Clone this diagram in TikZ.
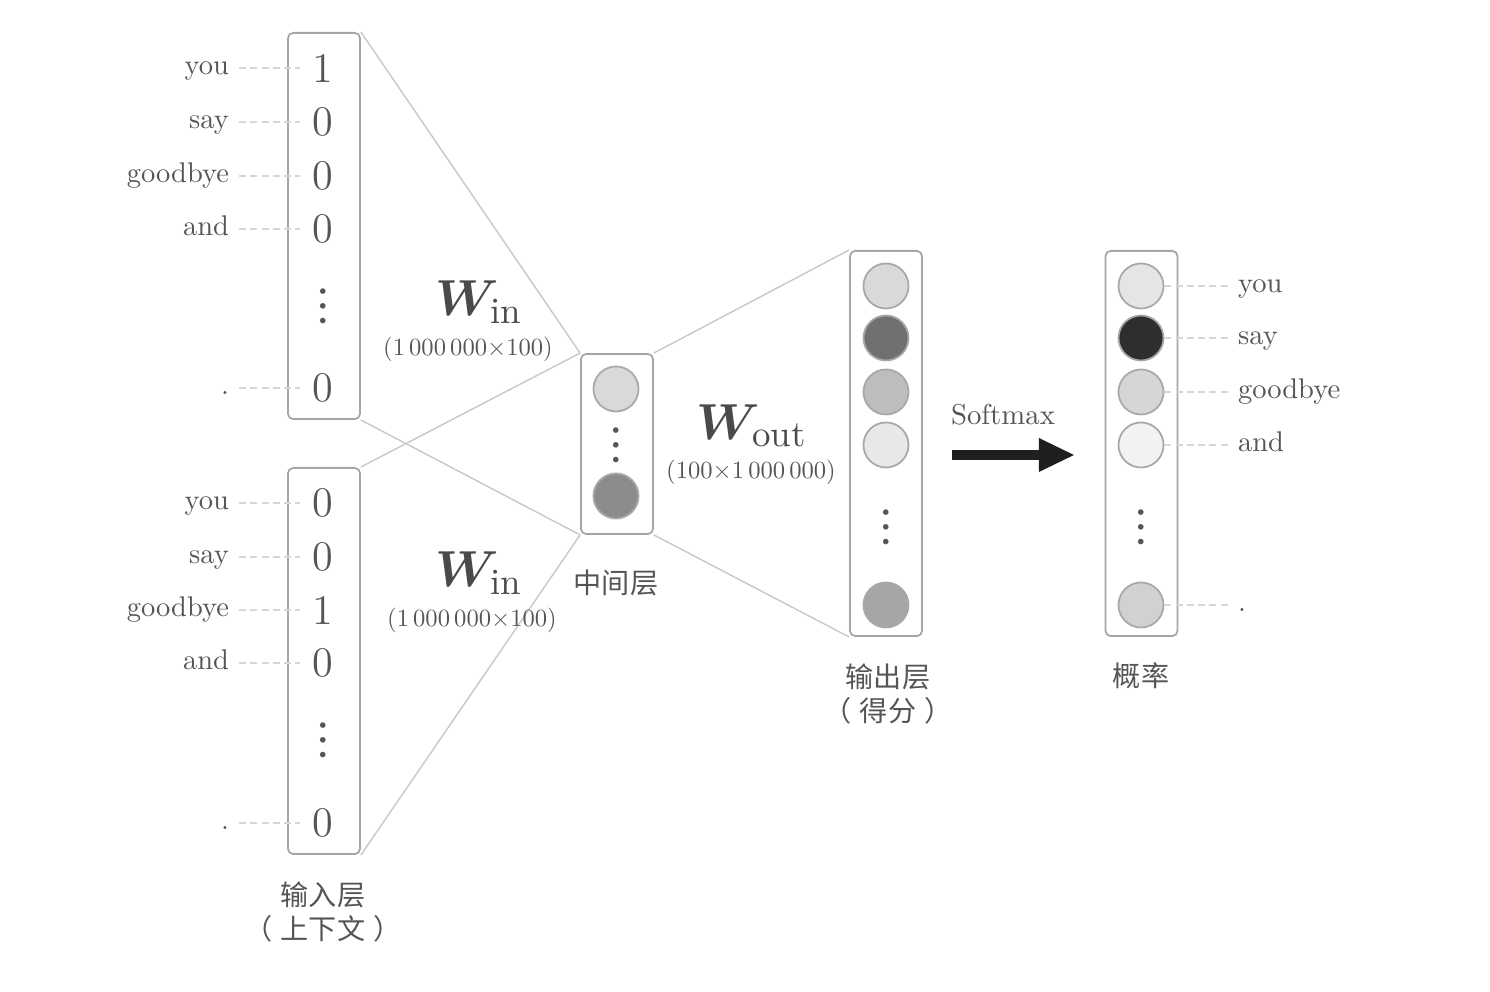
\documentclass[tikz,border=0pt]{standalone}
\usepackage{fontspec}
\usepackage{bm}
\newfontfamily\cjk{Noto Sans CJK SC}
\newfontfamily\symfont{Latin Modern Math}
\usetikzlibrary{arrows.meta}
\definecolor{txt}{HTML}{555555}
\definecolor{boxc}{HTML}{A6A6A6}
\definecolor{linkc}{HTML}{C8C8C8}
\definecolor{guidec}{HTML}{D6D6D6}
\definecolor{circc}{HTML}{A8A8A8}
\definecolor{wc}{HTML}{4A4A4A}
\begin{document}
\begin{tikzpicture}[x=0.01cm,y=-0.01cm,
  box/.style={draw=boxc,line width=0.5pt,rounded corners=1.5pt,minimum width=0.72cm},
  link/.style={draw=linkc,line width=0.4pt},
  guide/.style={draw=guidec,line width=0.35pt,dash pattern=on 2pt off 1.2pt},
  unit/.style={circle,draw=circc,line width=0.5pt,minimum size=0.45cm,inner sep=0pt},
  word/.style={text=txt,font=\fontsize{10}{12}\selectfont,scale=0.81,transform shape},
  digit/.style={text=txt,font=\fontsize{12}{14}\selectfont},
  vdot/.style={text=txt,font=\symfont\fontsize{15}{18}\selectfont},
  dim/.style={text=txt,font=\fontsize{10}{12}\selectfont,scale=0.7,transform shape},
  wt/.style={text=wc,font=\fontsize{15}{18}\selectfont},
  layer/.style={text=txt,align=center,font=\cjk\fontsize{8}{9.6}\selectfont}]
\useasboundingbox (0,0) rectangle (1490,992);
\node[box,minimum height=3.86cm] (ctxA) at (324,226) {};
\node[box,minimum height=3.86cm] (ctxB) at (324,661) {};
\node[box,minimum height=1.8cm] (hid) at (617,444) {};
\node[box,minimum height=3.85cm] (score) at (886,443.5) {};
\node[box,minimum height=3.85cm] (prob) at (1141.5,443.5) {};
\draw[link] (ctxA.north east) -- (hid.north west);
\draw[link] (ctxA.south east) -- (hid.south west);
\draw[link] (ctxB.north east) -- (hid.north west);
\draw[link] (ctxB.south east) -- (hid.south west);
\draw[link] (hid.north east) -- (score.north west);
\draw[link] (hid.south east) -- (score.south west);
\foreach \w/\v/\y [count=\i] in {you/1/68, say/0/122, goodbye/0/176, and/0/229, ./0/388}
{
    \node[word,anchor=mid east] (wa\i) at (239,\y) {\w};
    \node[digit] (va\i) at (323,\y) {\v};
    \draw[guide] (wa\i.mid east) -- (va\i.west);
}
\node[vdot] (dotsA) at (323,306) {⋮};
\foreach \w/\v/\y [count=\i] in {you/0/503, say/0/557, goodbye/1/610, and/0/663, ./0/823}
{
    \node[word,anchor=mid east] (wb\i) at (239,\y) {\w};
    \node[digit] (vb\i) at (323,\y) {\v};
    \draw[guide] (wb\i.mid east) -- (vb\i.west);
}
\node[vdot] (dotsB) at (323,740) {⋮};
\node[unit,fill=black!15] (h1) at (616,389) {};
\node[vdot] (dotsH) at (616,445) {⋮};
\node[unit,fill=black!45] (h2) at (616,496) {};
\foreach \g/\y [count=\i] in {15/286, 56/338, 26/392, 9/445, 35/605}
{
    \node[unit,fill=black!\g] (s\i) at (886,\y) {};
}
\node[vdot] (dotsS) at (886,527) {⋮};
\foreach \g/\w/\y [count=\i] in {10/you/286, 82/say/338, 16/goodbye/392, 5/and/445, 18/./605}
{
    \node[unit,fill=black!\g] (p\i) at (1141,\y) {};
    \node[word,anchor=mid west] (wp\i) at (1228,\y) {\w};
    \draw[guide] (p\i.east) -- (wp\i.mid west);
}
\node[vdot] (dotsP) at (1141,527) {⋮};
\node[wt] (winA) at (479,302) {$\bm{W}_{\mathrm{in}}$};
\node[dim] (dimA) at (468,349) {(1\,000\,000${\times}$100)};
\node[wt] (winB) at (479,573) {$\bm{W}_{\mathrm{in}}$};
\node[dim] (dimB) at (472,620) {(1\,000\,000${\times}$100)};
\node[wt] (wout) at (752,426) {$\bm{W}_{\mathrm{out}}$};
\node[dim] (dimO) at (751,472) {(100${\times}$1\,000\,000)};
\node[word,scale=1.01] (smx) at (1003,415) {Softmax};
\coordinate (sm0) at (952,455);
\coordinate (sm1) at (1075,455);
\draw[-{Triangle[length=0.36cm,width=0.31cm]},line width=2.8pt,black!88] (sm0) -- (sm1);
\node[layer] (lctx) at (323,912) {输入层\\（\hspace{0.3em}上下文\hspace{0.3em}）};
\node[layer] (lhid) at (616,583) {中间层};
\node[layer] (lscore) at (888,694) {输出层\\（\hspace{0.3em}得分\hspace{0.3em}）};
\node[layer] (lprob) at (1141,676) {概率};
\end{tikzpicture}
\end{document}
